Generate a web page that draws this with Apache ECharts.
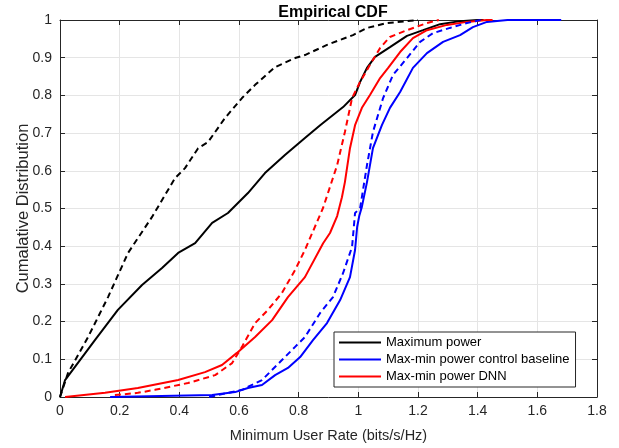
<!DOCTYPE html>
<html><head><meta charset="utf-8">
<script src="https://cdn.jsdelivr.net/npm/echarts@6/dist/echarts.min.js"></script>
<style>html,body{margin:0;padding:0;background:#fff}#c{width:619px;height:448px}</style>
</head><body><div id="c"></div>
<script>
const xTicks = [0,0.2,0.4,0.6,0.8,1,1.2,1.4,1.6,1.8];
const yTicks = [0,0.1,0.2,0.3,0.4,0.5,0.6,0.7,0.8,0.9,1];

const maxPowerX = [0,0.017,0.117,0.194,0.275,0.342,0.396,0.453,0.51,0.563,0.63,0.687,0.754,0.821,0.872,0.949,0.989,1.006,1.029,1.056,1.106,1.163,1.217,1.274,1.341,1.4,1.42];
const maxPowerY = [0,0.045,0.151,0.231,0.297,0.342,0.382,0.408,0.462,0.488,0.541,0.594,0.642,0.687,0.721,0.769,0.801,0.836,0.873,0.902,0.928,0.958,0.973,0.989,0.997,1,1];

const maxPowerDashX = [0,0.027,0.094,0.161,0.228,0.308,0.386,0.419,0.463,0.496,0.553,0.61,0.654,0.721,0.788,0.821,0.895,0.982,1.029,1.096,1.163,1.2];
const maxPowerDashY = [0,0.064,0.159,0.265,0.382,0.477,0.581,0.607,0.66,0.676,0.74,0.793,0.828,0.875,0.899,0.907,0.934,0.96,0.979,0.992,0.997,1];

const baselineX = [0.168,0.51,0.587,0.63,0.677,0.721,0.764,0.805,0.848,0.895,0.939,0.972,0.989,0.996,1.003,1.012,1.029,1.049,1.079,1.106,1.14,1.183,1.23,1.284,1.341,1.384,1.431,1.5,1.68];
const baselineY = [0,0.005,0.013,0.024,0.032,0.058,0.077,0.106,0.151,0.196,0.257,0.318,0.39,0.451,0.48,0.505,0.57,0.66,0.721,0.767,0.809,0.873,0.912,0.942,0.96,0.981,0.995,1,1];

const baselineDashX = [0.5,0.61,0.677,0.744,0.788,0.821,0.872,0.915,0.949,0.979,0.989,1.006,1.029,1.049,1.083,1.116,1.163,1.207,1.25,1.307,1.364,1.41];
const baselineDashY = [0,0.019,0.045,0.098,0.133,0.159,0.223,0.265,0.329,0.398,0.488,0.501,0.615,0.703,0.793,0.854,0.899,0.942,0.965,0.979,0.992,1];

const dnnX = [0.017,0.151,0.261,0.396,0.486,0.543,0.593,0.654,0.711,0.764,0.821,0.882,0.905,0.929,0.945,0.955,0.972,0.989,1.012,1.039,1.073,1.1,1.14,1.183,1.23,1.297,1.364,1.43,1.45];
const dnnY = [0,0.011,0.024,0.045,0.066,0.085,0.117,0.159,0.204,0.265,0.318,0.408,0.435,0.48,0.53,0.57,0.66,0.721,0.767,0.801,0.846,0.873,0.915,0.952,0.973,0.987,0.995,1,1];

const dnnDashX = [0.184,0.261,0.318,0.429,0.52,0.577,0.61,0.654,0.697,0.744,0.788,0.821,0.882,0.929,0.955,0.979,1.006,1.039,1.073,1.106,1.163,1.23,1.27];
const dnnDashY = [0.005,0.011,0.019,0.037,0.058,0.09,0.133,0.196,0.231,0.276,0.337,0.39,0.502,0.615,0.703,0.793,0.836,0.881,0.926,0.955,0.973,0.992,1];

const zip = (xs, ys) => xs.map((x,i)=>[x, ys[i]]);
const txt = '#262626';
const font = 'Liberation Sans, Arial, Helvetica, sans-serif';

function ser(name, xs, ys, color, dashed){
  return {name, type:'line', data: zip(xs,ys), showSymbol:false, symbol:'none', animation:false,
    lineStyle:{color, width:2, type: dashed ? [6,4] : 'solid'}, itemStyle:{color}, z: 3};
}

const chart = echarts.init(document.getElementById('c'), null, {renderer:'canvas'});
const axisCommon = {
  axisLine:{show:true, onZero:false, lineStyle:{color:txt, width:1}},
  axisTick:{show:true, inside:true, length:5, lineStyle:{color:txt}},
};
chart.setOption({
  backgroundColor:'#fff',
  animation:false,
  title:{text:'Empirical CDF', left:328, top:0, textAlign:'center',
    textStyle:{fontFamily:font, fontSize:16, fontWeight:'bold', color:'#000'}},
  grid:{left:60, right:22, top:20, bottom:51, containLabel:false, outerBoundsMode:'none'},
  legend:{
    data:['Maximum power','Max-min power control baseline','Max-min power DNN'],
    orient:'vertical', left:334, top:332,
    backgroundColor:'#fff', borderColor:txt, borderWidth:1, borderRadius:0,
    padding:[4,6,4,5], itemGap:4, itemWidth:42, itemHeight:13,
    icon:'path://M0,6 L42,6 L42,8 L0,8 Z',
    textStyle:{fontFamily:font, fontSize:13, color:'#000'}
  },
  xAxis:[
    Object.assign({type:'value', min:0, max:1.8, interval:0.2, position:'bottom',
      name:'Minimum User Rate (bits/s/Hz)', nameLocation:'middle', nameGap:31,
      nameTextStyle:{fontFamily:font, fontSize:14.5, color:txt},
      axisLabel:{fontFamily:font, fontSize:14, color:txt, margin:7},
      splitLine:{show:true, lineStyle:{color:'#e5e5e5', width:1}}}, axisCommon),
    Object.assign({type:'value', min:0, max:1.8, interval:0.2, position:'top',
      axisLabel:{show:false}, splitLine:{show:false}}, axisCommon)
  ],
  yAxis:[
    Object.assign({type:'value', min:0, max:1, interval:0.1, position:'left',
      name:'Cumalative Distribution', nameLocation:'middle', nameGap:28, nameMoveOverlap:false,
      nameTextStyle:{fontFamily:font, fontSize:16.5, color:txt},
      axisLabel:{fontFamily:font, fontSize:14, color:txt, margin:8},
      splitLine:{show:true, lineStyle:{color:'#e5e5e5', width:1}}}, axisCommon),
    Object.assign({type:'value', min:0, max:1, interval:0.1, position:'right',
      axisLabel:{show:false}, splitLine:{show:false}}, axisCommon)
  ],
  series:[
    ser('Maximum power', maxPowerX, maxPowerY, '#000000', false),
    ser('Max-min power control baseline', baselineX, baselineY, '#0000ff', false),
    ser('Max-min power DNN', dnnX, dnnY, '#ff0000', false),
    ser('Maximum power (dashed)', maxPowerDashX, maxPowerDashY, '#000000', true),
    ser('Max-min power control baseline (dashed)', baselineDashX, baselineDashY, '#0000ff', true),
    ser('Max-min power DNN (dashed)', dnnDashX, dnnDashY, '#ff0000', true)
  ]
});
</script></body></html>
